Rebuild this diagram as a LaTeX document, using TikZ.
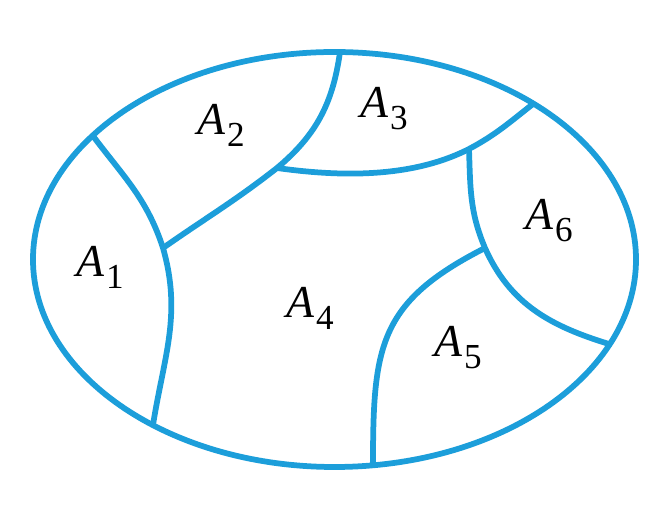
\documentclass[tikz,border=0pt]{standalone}
\usepackage{fontspec}
\setmainfont{Liberation Serif}
\definecolor{setblue}{RGB}{28,158,218}
\newcommand{\reg}[1]{\textit{A}\kern1pt\raisebox{-0.26em}{\fontsize{20}{20}\selectfont #1}}

\begin{document}
\begin{tikzpicture}[x=0.2mm, y=-0.2mm,
  part/.style = {draw=setblue, line width=1.15mm},
  lab/.style = {anchor=base, inner sep=0pt, font=\fontsize{26}{30}\selectfont}]
  \useasboundingbox (0,0) rectangle (670,505);
  % outline
  \coordinate (c) at (334.5,259.5);
  \draw[part] (c) ellipse [x radius=60.3mm, y radius=41.5mm];
  % ends on the outline
  \coordinate (p1) at (93,136);
  \coordinate (p2) at (153,425);
  \coordinate (p3) at (340,52);
  \coordinate (p4) at (533,104);
  \coordinate (p5) at (609,344);
  \coordinate (p6) at (373,465);
  % inner junctions
  \coordinate (j1) at (163,248);
  \coordinate (j2) at (277,168);
  \coordinate (j3) at (469,149);
  \coordinate (j4) at (485,248);
  % dividing curves
  \draw[part] (p1) to[out=-53, in=108] (j1) to[out=-74, in=81] (p2);
  \draw[part] (p3) to[out=-98, in=40] (j2) to[out=-142, in=35] (j1);
  \draw[part] (j2) to[out=-8, in=-153, looseness=0.85] (j3) to[out=28, in=-142] (p4);
  \draw[part] (j3) to[out=-88, in=113] (j4) to[out=-66, in=163] (p5);
  \draw[part] (j4) to[out=-153, in=90, looseness=1.25] (p6);
  % regions
  \node[lab] (a1) at (100,277) {\reg{1}};
  \node[lab] (a2) at (221,135) {\reg{2}};
  \node[lab] (a3) at (384,118) {\reg{3}};
  \node[lab] (a4) at (310,318) {\reg{4}};
  \node[lab] (a5) at (458,357) {\reg{5}};
  \node[lab] (a6) at (549,230) {\reg{6}};
\end{tikzpicture}
\end{document}
